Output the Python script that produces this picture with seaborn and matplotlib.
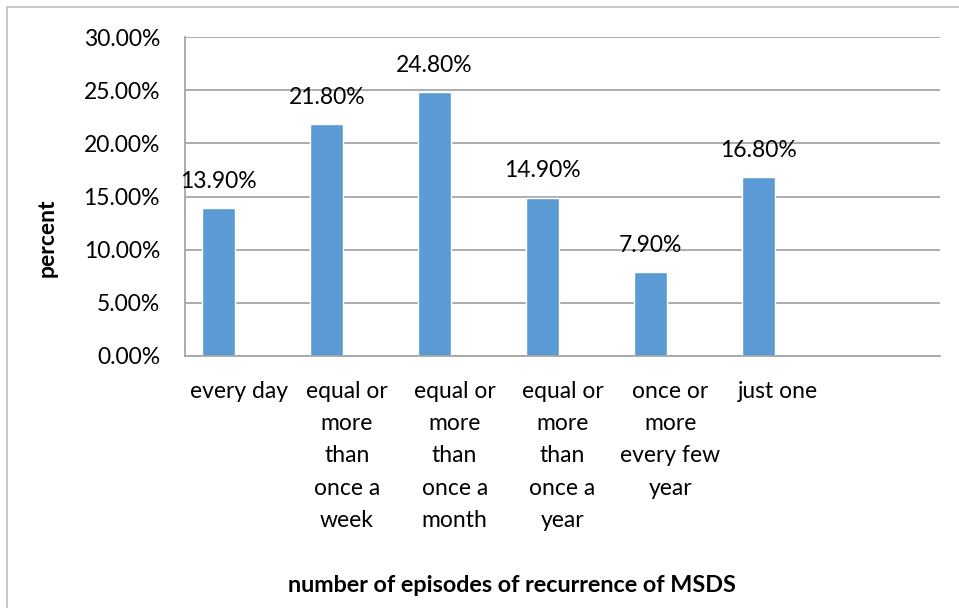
import matplotlib
matplotlib.use("Agg")
import matplotlib.pyplot as plt
import seaborn as sns
import pandas as pd
from matplotlib.patches import Rectangle
from matplotlib.ticker import PercentFormatter

# data
categories = ["every day",
              "equal or\nmore\nthan\nonce a\nweek",
              "equal or\nmore\nthan\nonce a\nmonth",
              "equal or\nmore\nthan\nonce a\nyear",
              "once or\nmore\nevery few\nyear",
              "just one",
              ""]
percent = [13.9, 21.8, 24.8, 14.9, 7.9, 16.8, None]
y_ticks = [0, 5, 10, 15, 20, 25, 30]

bar_color = "#5B9BD5"
grid_color = "#A6A6A6"

sns.set_theme(style="white")
plt.rcParams["font.family"] = ["Lato", "DejaVu Sans"]
plt.rcParams["text.color"] = "black"

df = pd.DataFrame({"category": categories, "percent": percent})

fig = plt.figure(figsize=(9.59, 6.08), dpi=100)
ax = fig.add_axes([185 / 959, 1 - 356 / 608, (940 - 185) / 959, (356 - 37) / 608])

sns.barplot(data=df, x="category", y="percent", order=categories,
            color=bar_color, saturation=1, width=0.305, ax=ax)

# Excel-style offset: bars sit left of the category centre
shift = -0.186
for p in ax.patches:
    p.set_x(p.get_x() + shift)

fs = 16.5
for p, v in zip(ax.patches, percent):
    if v is None:
        continue
    ax.text(p.get_x() + p.get_width() / 2, v + 2.5, f"{v:.2f}%",
            ha="center", va="center", fontsize=fs, color="black")

ax.set_xlim(-0.5, len(categories) - 0.5)
ax.set_ylim(0, 30)
ax.set_yticks(y_ticks)
ax.yaxis.set_major_formatter(PercentFormatter(decimals=2))
ax.yaxis.grid(True, color=grid_color, linewidth=1.3)
ax.set_axisbelow(True)

for s in ["top", "right"]:
    ax.spines[s].set_visible(False)
for s in ["left", "bottom"]:
    ax.spines[s].set_color(grid_color)
    ax.spines[s].set_linewidth(1.3)

ax.tick_params(axis="y", labelsize=fs, pad=18, length=0, labelcolor="black")
ax.tick_params(axis="x", labelsize=fs, pad=18, length=0, labelcolor="black")
for lbl in ax.get_xticklabels():
    lbl.set_linespacing(1.66)
    lbl.set_va("top")

ax.set_xlabel("")
ax.set_ylabel("")
fig.text(47 / 959, 1 - 238 / 608, "percent", rotation=90, ha="center", va="center",
         fontsize=fs, fontweight="bold", color="black")
fig.text(512 / 959, 1 - 585 / 608, "number of episodes of recurrence of MSDS",
         ha="center", va="center", fontsize=fs + 0.3, fontweight="bold", color="black")

# chart area frame
fig.add_artist(Rectangle((7 / 959, -0.1), 1.2, 1.1 - 7 / 608,
                         transform=fig.transFigure, fill=False,
                         edgecolor="#BFBFBF", linewidth=1.2))

fig.savefig("out.png", dpi=100)
